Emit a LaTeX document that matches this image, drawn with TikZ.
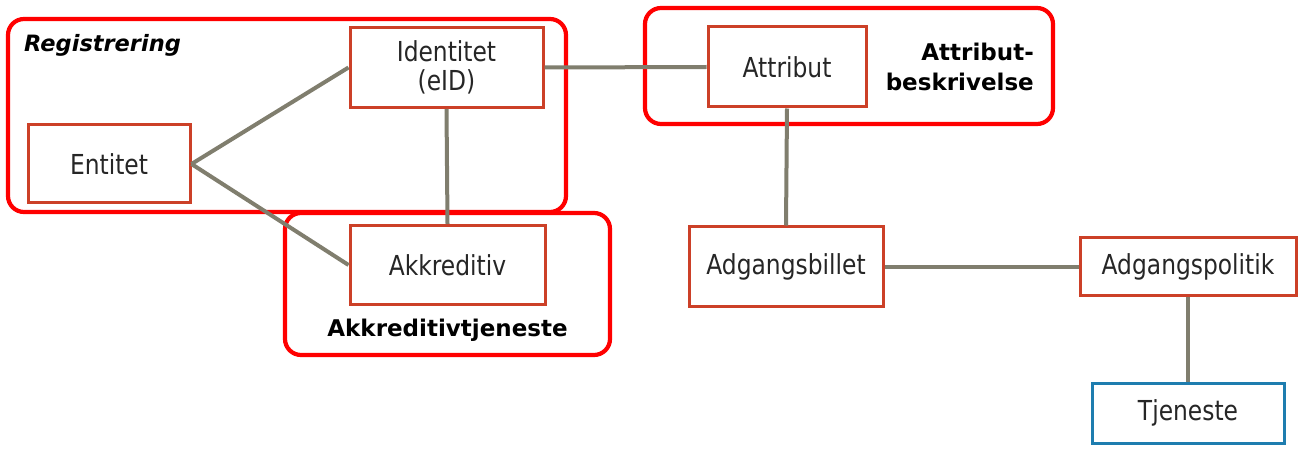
\documentclass[tikz,border=0pt]{standalone}
\usepackage{fontspec}
\setmainfont{DejaVu Sans}[FakeStretch=0.85]
\newfontfamily\lblfont{DejaVu Sans}
\definecolor{boxred}{RGB}{204,64,40}
\definecolor{contred}{RGB}{255,0,0}
\definecolor{linkgray}{RGB}{128,126,110}
\definecolor{tblue}{RGB}{30,125,175}
\tikzset{
  ent/.style={draw=boxred, line width=3pt, fill=white, align=center, inner sep=2pt,
    font=\fontsize{27.5}{29}\selectfont, text=black!85},
  svc/.style={ent, draw=tblue},
  cont/.style={draw=contred, line width=4.2pt, rounded corners=16pt},
  link/.style={draw=linkgray, line width=4pt},
  glabel/.style={font=\lblfont\fontsize{23}{30}\selectfont\bfseries, inner sep=0pt}
}
\begin{document}
\begin{tikzpicture}[x=1pt,y=-1pt]
\useasboundingbox (0,0) rectangle (1301,457);
% containers
\draw[cont] (8,19) rectangle (566,212);
\draw[cont] (285,213) rectangle (610,355);
\draw[cont] (645,8) rectangle (1053,124);
% container labels
\node[glabel, font=\lblfont\fontsize{22.5}{25}\selectfont\bfseries\itshape, anchor=base west] (lreg) at (24,52) {Registrering};
\node[glabel, anchor=base] (lakk) at (447.5,336) {Akkreditivtjeneste};
\node[glabel, anchor=east, align=right] (lattr) at (1034,67) {Attribut-\\beskrivelse};
% entity nodes
\node[ent, minimum width=193pt, minimum height=80pt] (ident) at (446.5,67.5) {Identitet\\(eID)};
\node[ent, minimum width=162pt, minimum height=78pt] (entitet) at (109,164) {Entitet};
\node[ent, minimum width=195pt, minimum height=79pt] (akk) at (447.5,265) {Akkreditiv};
\node[ent, minimum width=158pt, minimum height=80pt] (attr) at (787,67) {Attribut};
\node[ent, minimum width=194pt, minimum height=79pt] (billet) at (786,266.5) {Adgangsbillet};
\node[ent, minimum width=216pt, minimum height=57pt] (politik) at (1188,266.5) {Adgangspolitik};
\node[svc, minimum width=192pt, minimum height=60pt] (tjen) at (1188,413) {Tjeneste};
% links
\draw[link] (entitet.east) -- (ident.west);
\draw[link] (entitet.east) -- (akk.west);
\draw[link] (ident.south) -- (akk.north);
\draw[link] (ident.east) -- (attr.west);
\draw[link] (attr.south) -- (billet.north);
\draw[link] (billet.east) -- (politik.west);
\draw[link] (politik.south) -- (tjen.north);
\end{tikzpicture}
\end{document}
